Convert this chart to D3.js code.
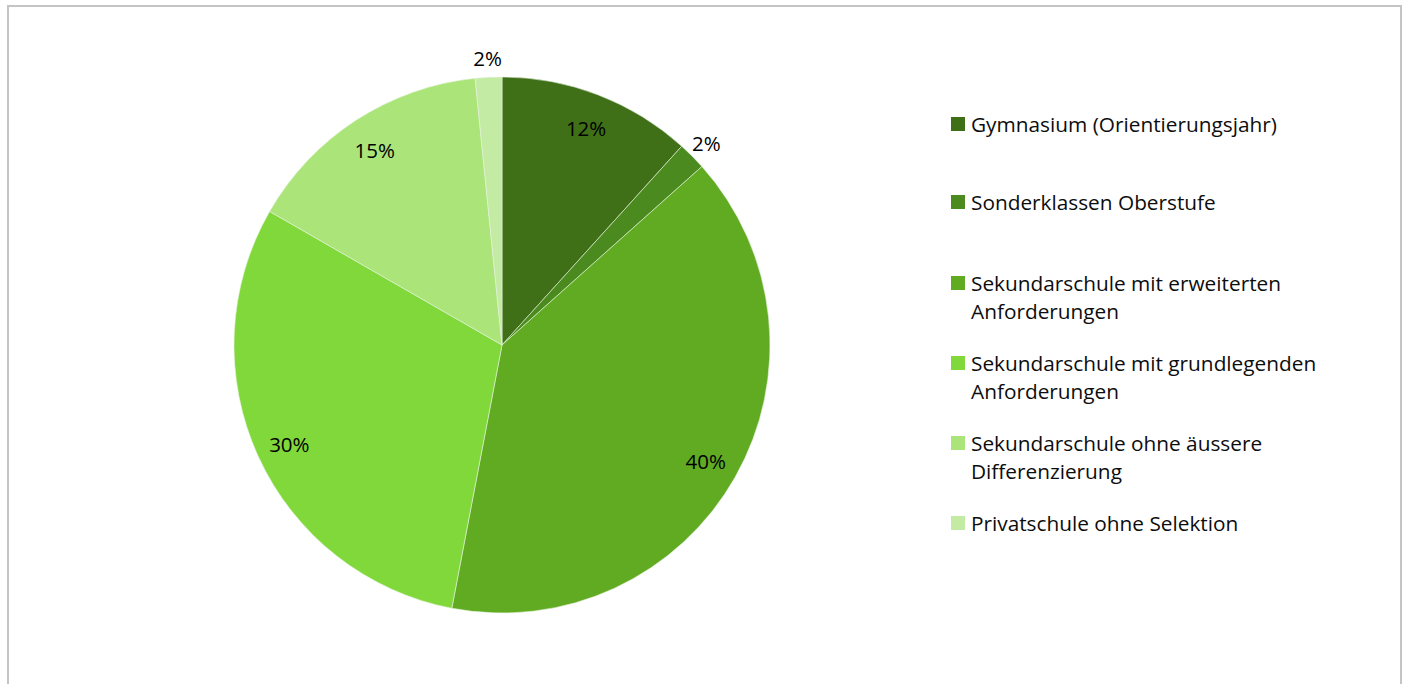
<!DOCTYPE html>
<html><head><meta charset="utf-8">
<script src="https://cdn.jsdelivr.net/npm/d3@7"></script>
<style>body{margin:0;background:#fff;} text{font-family:"Open Sans",sans-serif;}</style>
</head><body>
<svg id="c" width="1408" height="684"></svg>
<script>
const categories = ["Gymnasium (Orientierungsjahr)","Sonderklassen Oberstufe","Sekundarschule mit erweiterten Anforderungen","Sekundarschule mit grundlegenden Anforderungen","Sekundarschule ohne äussere Differenzierung","Privatschule ohne Selektion"];
const legendLines = [["Gymnasium (Orientierungsjahr)"],["Sonderklassen Oberstufe"],["Sekundarschule mit erweiterten","Anforderungen"],["Sekundarschule mit grundlegenden","Anforderungen"],["Sekundarschule ohne äussere","Differenzierung"],["Privatschule ohne Selektion"]];
const values = [11.7, 1.7, 39.6, 30.3, 15.1, 1.6];
const colors = ["#3f6f17","#4b8a1e","#61ab23","#80d83a","#abe57a","#c4eba4"];

const svg = d3.select("#c");
svg.append("rect").attr("x",8).attr("y",6).attr("width",1393).attr("height",700)
  .attr("fill","none").attr("stroke","#c4c4c4").attr("stroke-width",2);

const cx=502, cy=345, R=268;
const total = d3.sum(values);
const pie = d3.pie().sort(null).value(d=>d)(values);
const arc = d3.arc().innerRadius(0).outerRadius(R);
const g = svg.append("g").attr("transform",`translate(${cx},${cy})`);
g.selectAll("path").data(pie).join("path").attr("d",arc)
  .attr("fill",(d,i)=>colors[i]).attr("stroke","#e6f2dc").attr("stroke-width",0.6);
const inArc = d3.arc().innerRadius(234).outerRadius(234);
const outArc = d3.arc().innerRadius(288).outerRadius(288);
g.selectAll("text").data(pie).join("text")
  .attr("transform",d=>{const p=(d.value/total<0.05?outArc:inArc).centroid(d);return `translate(${p[0]},${p[1]+1})`;})
  .attr("text-anchor","middle").attr("dominant-baseline","central")
  .attr("font-size",20.5).attr("fill","#000")
  .text(d=>Math.round(d.value/total*100)+"%");

const lg = svg.append("g");
const rowY = [124,202,283,363,443,523];
categories.forEach((c,i)=>{
  lg.append("rect").attr("x",951).attr("y",rowY[i]-7).attr("width",14).attr("height",14).attr("fill",colors[i]);
  legendLines[i].forEach((t,j)=>{
    lg.append("text").attr("x",971).attr("y",rowY[i]+j*28).attr("dominant-baseline","central")
      .attr("font-size",20.8).attr("fill","#0d0d0d").text(t);
  });
});
</script>
</body></html>
